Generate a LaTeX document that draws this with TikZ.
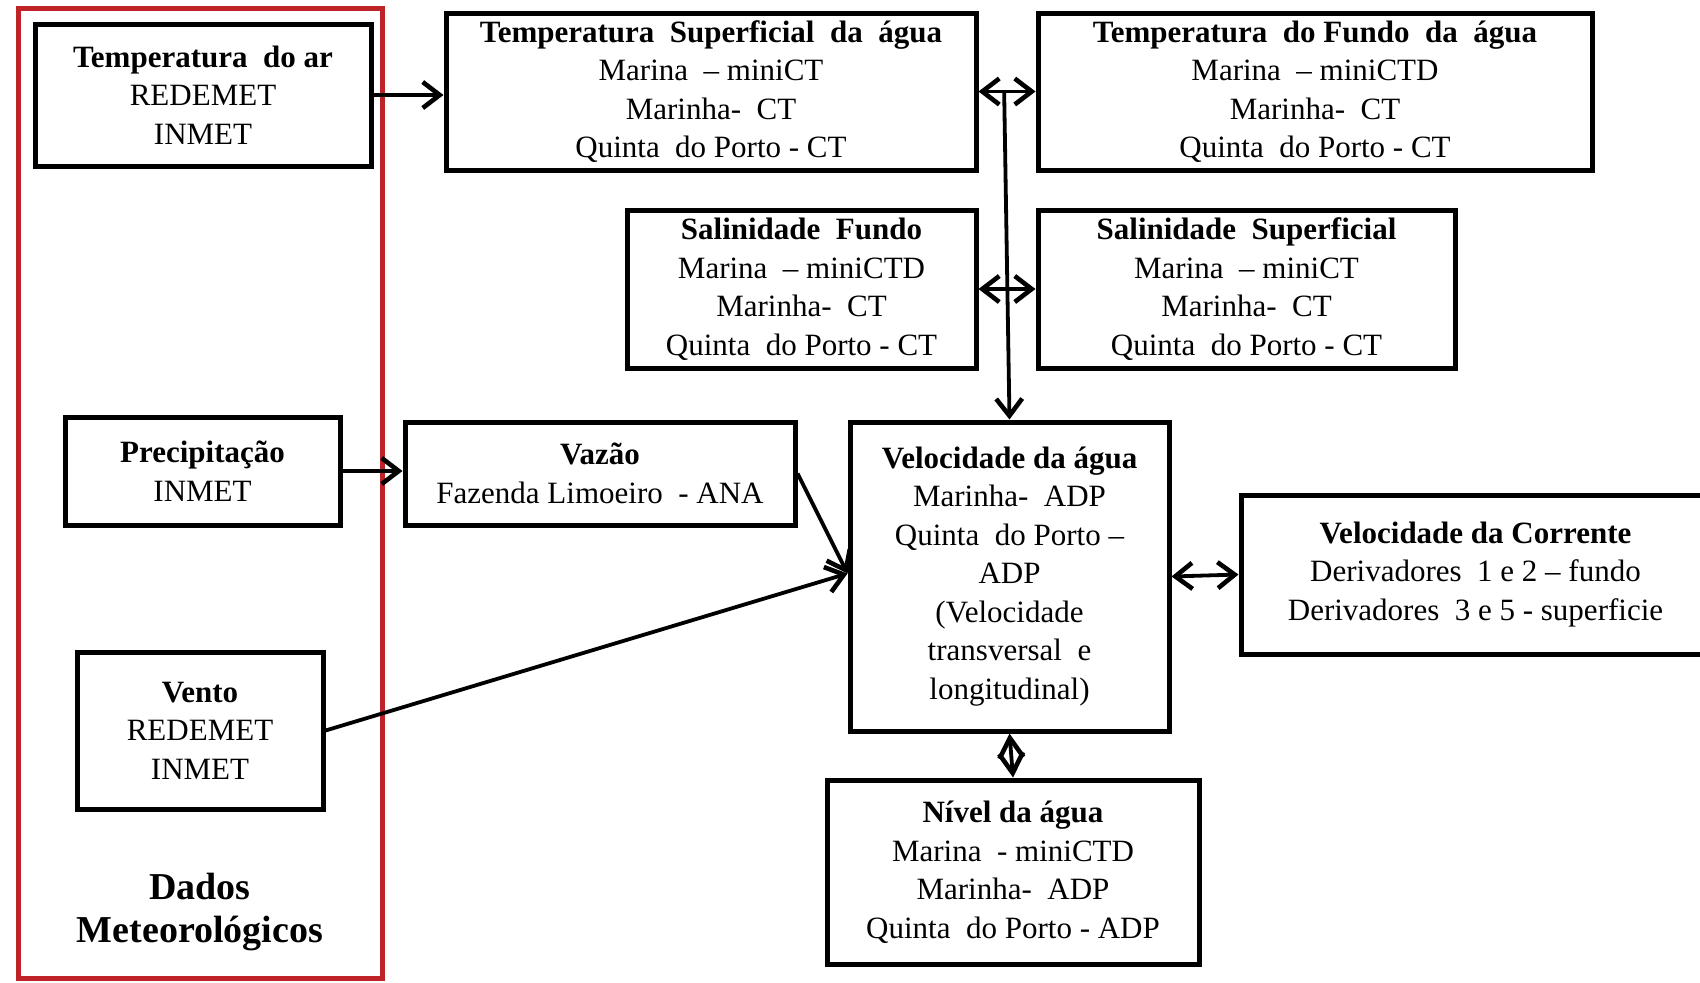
\documentclass[tikz,border=0pt]{standalone}
\usepackage{fontspec}
\setmainfont{Liberation Serif}
\usetikzlibrary{arrows.meta,calc}
\definecolor{framered}{RGB}{190,35,40}
\begin{document}
\begin{tikzpicture}[x=0.5pt,y=-0.5pt,
  box/.style={draw, line width=2.5pt, inner sep=0pt, align=center,
    font=\fontsize{15.5}{19.25}\selectfont},
  arr/.style={line width=1.9pt, -{Straight Barb[length=8.5pt,width=13pt,line width=2.3pt]}},
  darr/.style={line width=1.9pt, {Straight Barb[length=8.5pt,width=13pt,line width=2.3pt]}-{Straight Barb[length=8.5pt,width=13pt,line width=2.3pt]}},
  sdarr/.style={line width=1.9pt, {Straight Barb[length=10pt,width=12pt,line width=2.3pt]}-{Straight Barb[length=10pt,width=12pt,line width=2.3pt]}},
  titlefont/.style={font=\bfseries\fontsize{19}{21.5}\selectfont}
]
\useasboundingbox (0,0) rectangle (1700,982);
\fill[white] (0,0) rectangle (1700,982);

% red frame
\draw[framered, line width=2.5pt] (18,8) rectangle (382,978);

\node[box, minimum width=168pt, minimum height=71pt] (ar) at (203,95)
  {\textbf{Temperatura~ do ar}\\REDEMET\\INMET};
\node[box, minimum width=265pt, minimum height=78.5pt] (TS) at (711,91.5)
  {\textbf{Temperatura~ Superficial~ da~ água}\\Marina~ -- miniCT\\Marinha-~ CT\\Quinta~ do Porto - CT};
\node[box, minimum width=277pt, minimum height=78.5pt] (TF) at (1315,91.5)
  {\textbf{Temperatura~ do Fundo~ da~ água}\\Marina~ -- miniCTD\\Marinha-~ CT\\Quinta~ do Porto - CT};
\node[box, minimum width=174.5pt, minimum height=79pt] (SF) at (801.5,289)
  {\textbf{Salinidade~ Fundo}\\Marina~ -- miniCTD\\Marinha-~ CT\\Quinta~ do Porto - CT};
\node[box, minimum width=208.5pt, minimum height=79pt] (SS) at (1246.5,289)
  {\textbf{Salinidade~ Superficial}\\Marina~ -- miniCT\\Marinha-~ CT\\Quinta~ do Porto - CT};
\node[box, minimum width=137.5pt, minimum height=54pt] (Prec) at (202.5,471)
  {\textbf{Precipitação}\\INMET};
\node[box, minimum width=195pt, minimum height=51.5pt] (Vaz) at (600,473.5)
  {\textbf{Vazão}\\Fazenda Limoeiro~ - ANA};
\node[box, minimum width=159.5pt, minimum height=154.5pt] (VA) at (1009.5,576.5)
  {\textbf{Velocidade da água}\\Marinha-~ ADP\\Quinta~ do Porto --\\ADP\\(Velocidade\\transversal~ e\\longitudinal)};
\node[box, minimum width=234.5pt, minimum height=79.5pt] (VC) at (1475.5,574.5)
  {\textbf{Velocidade da Corrente}\\Derivadores~ 1 e 2 -- fundo\\Derivadores~ 3 e 5 - superficie};
\node[box, minimum width=123pt, minimum height=78.5pt] (Vento) at (200,730.5)
  {\textbf{Vento}\\REDEMET\\INMET};
\node[box, minimum width=186pt, minimum height=92pt] (Niv) at (1013,872)
  {\textbf{Nível da água}\\Marina~ - miniCTD\\Marinha-~ ADP\\Quinta~ do Porto - ADP};

\node[titlefont, align=center] (dm) at (200,912) {Dados\\Meteorológicos};

% connectors
\draw[arr] (ar.east) -- (ar.east -| TS.west);
\draw[darr] (TS.east) -- (TF.west);
\coordinate (j1) at ($(TS.east)!0.45!(TF.west)$);
\draw[arr] (j1) -- (VA.north);
\draw[darr] (SF.east) -- (SS.west);
\draw[arr] (Prec.east) -- (Prec.east -| Vaz.west);
\coordinate (vin) at ($(VA.west)+(0,-3)$);
\draw[arr] (Vaz.east) -- (vin);
\draw[arr] (Vento.east) -- (vin);
\draw[darr] (VA.east) -- (VC.west);
\draw[sdarr] (VA.south) -- (Niv.north);
\end{tikzpicture}
\end{document}
